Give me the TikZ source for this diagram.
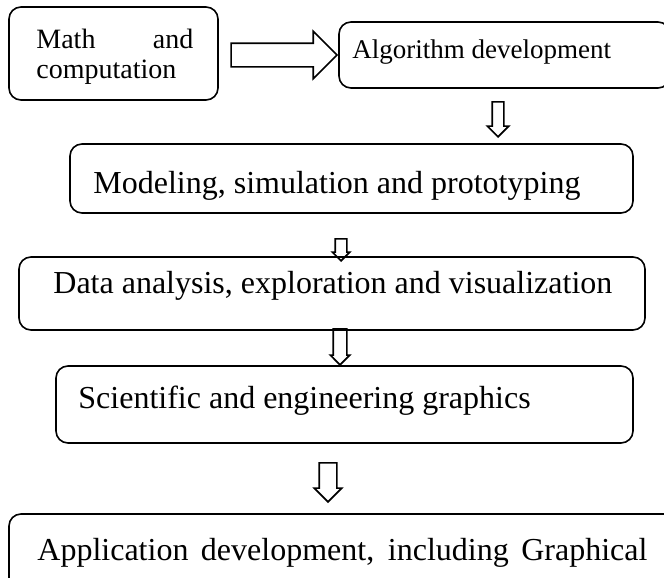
\documentclass[tikz,border=0pt]{standalone}
\usepackage{fontspec}
\setmainfont{Liberation Serif}
\usetikzlibrary{shapes.arrows}

\begin{document}
\begin{tikzpicture}[
     x=0.5pt, y=-0.5pt,
     % define styles
     box/.style={
         draw,
         rectangle,
         rounded corners=6pt,
         line width=0.8pt,
         inner sep=0pt
     },
     txt/.style={
         inner sep=0pt,
         anchor=base west,
         font=\fontsize{16}{19}\selectfont
     },
     hollow/.style={
         single arrow,
         draw,
         line width=0.8pt,
         inner xsep=0pt,
         anchor=tip
     },
     dnarrow/.style={
         hollow,
         rotate=-90
     }
]
\useasboundingbox (0,0) rectangle (664,578);
\clip (0,0) rectangle (664,578);

% boxes
\node[box, minimum width=104.5pt, minimum height=46.5pt] (math) at (113.5,53.5) {};
\node[box, minimum width=165.5pt, minimum height=33pt] (algo) at (504.5,55) {};
\node[box, minimum width=281.5pt, minimum height=34.5pt] (model) at (351.5,178.5) {};
\node[box, minimum width=313pt, minimum height=36.5pt] (data) at (332,293.5) {};
\node[box, minimum width=288.5pt, minimum height=38.5pt] (sci) at (344.5,404.5) {};
\node[box, minimum width=345.5pt, minimum height=53pt] (app) at (354.5,567) {};

% texts
\node[txt, align=left, font=\fontsize{14}{15}\selectfont] (mathtxt) at (36,78)
    {\makebox[78.5pt][s]{Math and}\\computation};
\node[txt, font=\fontsize{13.5}{16}\selectfont] (algotxt) at (352,58) {Algorithm development};
\node[txt] (modeltxt) at (93,193) {Modeling, simulation and prototyping};
\node[txt] (datatxt) at (53,293) {Data analysis, exploration and visualization};
\node[txt] (scitxt) at (78,408) {Scientific and engineering graphics};
\node[txt] (apptxt) at (37,560)
    {\makebox[305pt][s]{Application development, including Graphical}};

% block arrows
\node[hollow, minimum height=53pt, inner ysep=5.5pt, single arrow head extend=6pt] (ar0) at (algo.west) {};
\node[dnarrow, minimum height=17.5pt, inner ysep=2.5pt, single arrow head extend=2.5pt] (ar1) at (498,138) {};
\node[dnarrow, minimum height=11pt, inner ysep=2.5pt, single arrow head extend=1.5pt] (ar2) at (341,262) {};
\node[dnarrow, minimum height=18pt, inner ysep=3pt, single arrow head extend=1.5pt] (ar3) at (340,366) {};
\node[dnarrow, minimum height=19.5pt, inner ysep=4pt, single arrow head extend=2.5pt] (ar4) at (328,503) {};
\end{tikzpicture}
\end{document}
